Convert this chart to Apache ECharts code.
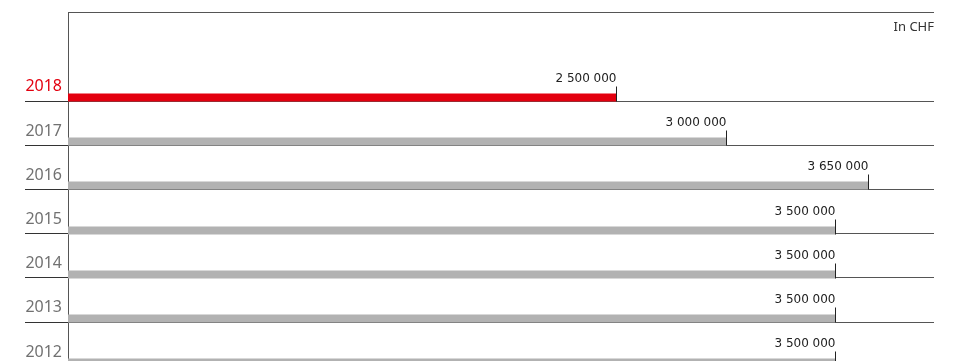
<!DOCTYPE html>
<html>
<head>
    <meta charset="utf-8">
    <title>In CHF</title>
    <script src="https://cdn.jsdelivr.net/npm/echarts@6/dist/echarts.min.js"></script>
    <style>
        html, body { margin: 0; padding: 0; background: #fff; overflow: hidden; }
        /* 比窗口高一点：最后一行（2012）在底部被裁掉 */
        #chart1 { width: 957px; height: 368px; }
    </style>
</head>
<body>
<div id="chart1"></div>
<script type="text/javascript">
    // 年份（上到下）和金额
    var years = ['2018', '2017', '2016', '2015', '2014', '2013', '2012'];
    var amounts = [2500000, 3000000, 3650000, 3500000, 3500000, 3500000, 3500000];
    var unitText = 'In CHF';

    var RED = '#e3000f';
    var GREY = '#b2b2b2';

    // 第一行是空白（放 "In CHF"）
    var categories = [''].concat(years);

    function fmt(v) {
        return String(v).replace(/\B(?=(\d{3})+(?!\d))/g, ' ');
    }

    var myChart1 = echarts.init(document.getElementById('chart1'));

    myChart1.setOption({
        animation: false,
        title: {
            text: unitText,
            right: 23,
            top: 21,
            padding: 0,
            textStyle: {
                fontFamily: 'Noto Sans',
                fontSize: 13,
                fontWeight: 'normal',
                color: '#333'
            }
        },
        grid: {
            left: 68,
            top: 12.5,
            width: 866,
            height: 353.6
        },
        xAxis: {
            type: 'value',
            min: 0,
            max: 3950000,
            show: false
        },
        yAxis: {
            type: 'category',
            inverse: true,
            data: categories,
            axisLine: {
                show: true,
                lineStyle: { color: '#555', width: 1 }
            },
            axisTick: {
                show: true,
                inside: false,
                length: 43,
                interval: function (index) { return index >= 2; },
                lineStyle: { color: '#333', width: 1 }
            },
            splitLine: {
                show: true,
                interval: function (index) { return index === 0 || index >= 2; },
                lineStyle: { color: '#555', width: 1 }
            },
            axisLabel: {
                interval: 0,
                margin: 6,
                fontFamily: 'Noto Sans',
                fontSize: 16,
                lineHeight: 16,
                verticalAlign: 'top',
                color: function (value) {
                    return value === years[0] ? RED : '#717171';
                }
            }
        },
        series: [{
            type: 'custom',
            silent: true,
            encode: { x: 0, y: 1 },
            data: amounts.map(function (v, i) { return [v, years[i]]; }),
            renderItem: function (params, api) {
                var cat = api.value(1);
                var end = api.coord([api.value(0), cat]);
                var start = api.coord([0, cat]);
                var band = api.size([0, 1])[1];
                var bottom = Math.round(end[1] + band / 2);
                var xEnd = Math.round(end[0]) + 0.5;
                return {
                    type: 'group',
                    children: [{
                        type: 'rect',
                        shape: {
                            x: start[0],
                            y: bottom - 7.5,
                            width: xEnd - start[0],
                            height: 8
                        },
                        style: { fill: params.dataIndex === 0 ? RED : GREY }
                    }, {
                        type: 'line',
                        shape: { x1: xEnd, y1: bottom + 0.5, x2: xEnd, y2: bottom - 14.5 },
                        style: { stroke: '#222', lineWidth: 1 }
                    }, {
                        type: 'text',
                        x: xEnd,
                        y: bottom - 22.3,
                        style: {
                            text: fmt(api.value(0)),
                            align: 'right',
                            verticalAlign: 'middle',
                            font: '12px "DejaVu Sans"',
                            fill: '#222'
                        }
                    }]
                };
            }
        }]
    });
</script>
</body>
</html>
